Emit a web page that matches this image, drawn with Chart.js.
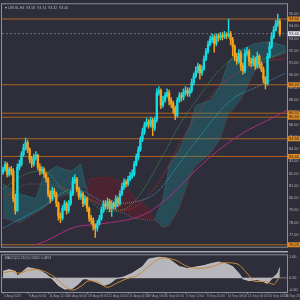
<!DOCTYPE html>
<html>
<head>
<meta charset="utf-8">
<script src="https://cdn.jsdelivr.net/npm/chart.js@4.4.1/dist/chart.umd.min.js"></script>
<style>
  html, body { margin: 0; padding: 0; background: #2d2e3a; }
  #wrap { position: relative; width: 300px; height: 300px; overflow: hidden; background: #2d2e3a; }
  canvas { position: absolute; left: 0; }
</style>
</head>
<body>
<div id="wrap">
  <canvas id="priceChart" width="300" height="251" style="top:0"></canvas>
  <canvas id="macdChart" width="300" height="49" style="top:251px"></canvas>
</div>
<script>
// H4 candles (open of each bar = previous close)
const firstOpen = 82.10;
const closes = [82.36, 82.76, 81.96, 82.36, 82.20, 79.96, 79.00, 82.52, 82.76, 83.56,
  84.12, 84.52, 83.96, 83.16, 82.76, 83.32, 83.48, 82.52, 82.20, 82.36,
  81.96, 81.56, 80.36, 79.96, 80.60, 80.36, 79.56, 78.52, 78.36, 79.16,
  79.56, 79.00, 79.56, 80.36, 81.40, 81.56, 80.76, 80.12, 80.36, 79.56,
  79.96, 79.16, 78.36, 78.20, 77.72, 77.56, 77.96, 78.36, 79.00, 79.56,
  79.32, 79.72, 79.16, 79.56, 79.32, 79.96, 79.56, 80.36, 80.92, 81.32,
  81.16, 81.56, 81.80, 81.96, 82.76, 83.32, 83.96, 84.76, 85.40, 85.96,
  86.20, 85.96, 86.36, 85.72, 86.36, 88.60, 88.76, 87.56, 87.96, 88.36,
  88.60, 87.96, 87.72, 87.32, 86.76, 87.96, 88.36, 88.20, 88.60, 88.76,
  88.52, 88.76, 89.40, 89.96, 90.36, 90.76, 90.20, 90.52, 91.32, 91.96,
  92.52, 92.92, 93.08, 92.60, 93.16, 93.08, 93.24, 93.16, 93.32, 93.24,
  93.40, 92.92, 92.36, 91.56, 91.16, 91.80, 90.76, 90.36, 91.80, 91.96,
  91.16, 91.00, 91.32, 90.76, 91.56, 90.92, 90.52, 89.72, 89.32, 91.56,
  92.36, 93.16, 93.72, 94.20, 94.44, 93.40];
const highs = [82.56, 82.98, 82.90, 82.52, 82.60, 82.40, 80.30, 82.80, 83.10, 83.80,
  84.40, 84.90, 84.70, 84.10, 83.40, 83.60, 83.80, 83.60, 82.80, 82.60,
  82.50, 82.10, 81.70, 80.60, 80.90, 80.80, 80.50, 79.70, 78.80, 79.40,
  79.80, 79.70, 79.80, 80.60, 81.70, 81.90, 81.70, 80.90, 80.60, 80.50,
  80.20, 80.10, 79.30, 78.60, 78.40, 77.90, 78.20, 78.60, 79.30, 79.80,
  79.80, 80.00, 79.90, 79.80, 79.70, 80.20, 80.10, 80.60, 81.20, 81.60,
  81.50, 81.80, 82.10, 82.30, 83.00, 83.60, 84.20, 85.00, 85.70, 86.20,
  86.50, 86.40, 86.60, 86.50, 86.60, 88.90, 89.10, 88.90, 88.30, 88.60,
  88.90, 88.80, 88.20, 87.90, 87.50, 88.20, 88.60, 88.60, 88.90, 89.10,
  89.00, 89.00, 89.70, 90.20, 90.70, 91.00, 90.90, 90.80, 91.60, 92.20,
  92.80, 93.20, 93.40, 93.30, 93.40, 93.40, 93.50, 93.50, 93.60, 93.50,
  94.60, 93.60, 93.10, 92.50, 91.80, 92.10, 92.00, 91.00, 92.10, 92.30,
  92.10, 91.40, 91.60, 91.50, 91.90, 91.70, 91.10, 90.70, 89.90, 91.80,
  92.70, 93.50, 94.00, 94.50, 95.00, 94.60];
const lows = [81.94, 82.20, 81.72, 81.80, 81.90, 79.70, 78.70, 78.90, 82.30, 82.60,
  83.40, 83.90, 83.70, 82.90, 82.50, 82.60, 83.10, 82.30, 81.90, 82.00,
  81.70, 81.30, 80.10, 79.60, 79.80, 80.10, 79.30, 78.20, 78.00, 78.20,
  79.00, 78.70, 78.80, 79.40, 80.20, 81.20, 80.50, 79.90, 79.90, 79.30,
  79.40, 78.90, 78.10, 77.90, 77.40, 76.80, 77.30, 77.80, 78.20, 78.80,
  79.10, 79.10, 78.90, 78.50, 79.10, 79.10, 79.30, 79.40, 80.20, 80.70,
  80.90, 81.00, 81.40, 81.60, 81.80, 82.60, 83.10, 83.80, 84.60, 85.20,
  85.80, 85.70, 85.80, 85.10, 85.50, 86.20, 88.40, 87.30, 87.40, 87.80,
  88.20, 87.60, 87.40, 86.90, 86.40, 86.60, 87.80, 87.90, 88.00, 88.40,
  88.30, 88.30, 88.60, 89.20, 89.80, 90.20, 89.70, 90.00, 90.40, 91.20,
  91.80, 92.40, 92.70, 91.90, 92.40, 92.80, 92.90, 92.90, 93.00, 93.00,
  93.10, 92.50, 91.60, 91.20, 90.90, 91.00, 90.40, 90.10, 90.20, 91.60,
  90.80, 90.70, 90.80, 90.50, 90.60, 90.60, 90.30, 89.40, 88.90, 89.20,
  91.40, 92.20, 93.00, 93.60, 94.00, 93.20];

// cloud (senkou A / B), sampled at bar indexes
const cloudIdx = [0, 8, 16, 20, 26, 33, 38, 40, 41, 42, 50, 59, 64, 71, 74, 78, 81, 86, 91, 94, 101, 106, 110, 116, 123, 130, 138];
const spanA = [81.16, 80.36, 79.96, 81.96, 82.60, 82.20, 82.76, 81.16, 80.60, 79.96, 79.16, 78.76, 78.36, 78.20, 78.20, 79.96, 82.60, 83.96, 85.80, 87.56, 87.96, 89.16, 91.16, 92.12, 92.60, 92.76, 92.36];
const spanB = [78.36, 77.96, 78.76, 79.16, 79.96, 80.36, 80.76, 80.76, 80.60, 81.56, 81.72, 81.32, 79.96, 79.16, 78.20, 77.56, 77.72, 79.16, 81.56, 82.60, 83.56, 84.76, 86.76, 87.96, 90.36, 91.32, 91.80];

// dotted averages and the long solid average
const fastIdx = [0, 11, 20, 30, 40, 50, 60, 67, 77, 86, 96, 106, 116, 125, 138];
const fastVal = [80.76, 81.96, 82.20, 80.60, 80.12, 78.92, 79.16, 80.36, 83.16, 85.96, 88.36, 90.52, 91.56, 91.32, 91.96];
const midIdx = [0, 13, 28, 42, 57, 67, 77, 86, 96, 106, 116, 125, 138];
const midVal = [79.96, 81.16, 80.92, 79.96, 79.00, 79.56, 81.56, 84.36, 87.16, 89.16, 90.36, 91.00, 91.40];
const slowIdx = [0, 18, 35, 52, 72, 91, 111, 125, 138];
const slowVal = [77.56, 79.16, 80.76, 79.56, 80.12, 83.96, 87.96, 89.16, 90.20];
const longIdx = [16, 20, 35, 47, 69, 80, 96, 114, 134, 138.5];
const longVal = [76.20, 76.44, 77.64, 77.88, 78.68, 79.96, 82.60, 85.00, 86.76, 87.16];

const levelPrices = [94.60, 89.24, 86.92, 86.60, 84.84, 83.40, 76.20];
const priceTicks = [95, 94, 93, 92, 91, 90, 89, 88, 87, 86, 85, 84, 83, 82, 81, 80, 79, 78, 77];

// MACD pane
const histIdx = [0, 3, 6, 7, 12, 17, 21, 24, 27, 30, 34, 37, 39, 41, 46, 49, 52, 55, 59, 63, 68, 71, 76, 80, 83, 86, 90, 95, 98, 101, 105, 109, 112, 115, 117, 120, 124, 126, 129, 131, 134, 135];
const histVal = [0.32, 0.41, 0.32, 0.09, 0.51, 0.41, 0.18, -0.05, -0.37, -0.55, -0.51, -0.28, -0.05, -0.05, -0.23, -0.37, -0.28, -0.05, 0.05, 0.23, 0.55, 0.92, 1.01, 0.97, 0.78, 0.55, 0.46, 0.55, 0.60, 0.69, 0.78, 0.69, 0.55, 0.23, -0.05, -0.14, -0.09, -0.14, -0.28, -0.05, 0.23, 0.51];
const signalIdx = [0, 4, 8, 12, 16, 20, 25, 30, 34, 38, 42, 46, 51, 55, 60, 66, 72, 78, 84, 90, 96, 102, 108, 114, 119, 123, 128, 132, 135];
const signalVal = [0.23, 0.32, 0.23, 0.37, 0.41, 0.32, 0.05, -0.41, -0.60, -0.41, -0.14, -0.18, -0.46, -0.28, -0.05, 0.14, 0.64, 0.97, 0.87, 0.55, 0.46, 0.55, 0.74, 0.69, 0.23, -0.18, -0.18, -0.32, 0.09];
const macdTicks = [1.0, 0, -0.6];

const dateTickIdx = [0, 12, 22, 31, 41, 51, 61, 70, 79, 89, 99, 109, 119, 129, 137];
const dateTickLabels = ['4 Aug 2023', '9 Aug 04:00', '11 Aug 12:00', '16 Aug 00:00', '18 Aug 08:00', '22 Aug 20:00', '25 Aug 04:00',
  '29 Aug 16:00', '1 Sep 00:00', '6 Sep 12:00', '8 Sep 20:00', '13 Sep 08:00', '15 Sep 16:00', '20 Sep 04:00', '26 Sep 20:00'];

const BULL = '#14dde4';
const BEAR = '#f2a21c';
const LEVEL = '#b2641d';
const FONT = '"Liberation Sans", sans-serif';

const pts = (idx, vals) => idx.map((k, i) => ({ x: k, y: vals[i] }));
const opens = closes.map((c, i) => i === 0 ? firstOpen : closes[i - 1]);
const candleColors = closes.map((c, i) => c >= opens[i] ? BULL : BEAR);
const lastClose = closes[closes.length - 1];
const xMin = -0.5, xMax = 138.5;

const hLine = (v, color, width, dash) => ({
    type: 'line', data: [{ x: xMin, y: v }, { x: xMax, y: v }],
    borderColor: color, borderWidth: width, borderDash: dash || [],
    pointRadius: 0, fill: false, order: 4
});
const avgLine = (idx, vals, color, dash, width) => ({
    type: 'line', data: pts(idx, vals), borderColor: color, borderWidth: width || 0.9,
    borderDash: dash, pointRadius: 0, fill: false, cubicInterpolationMode: 'monotone', order: 2
});

const priceDecor = {
    id: 'priceDecor',
    afterDraw(chart) {
        const { ctx, chartArea: a, scales: { y } } = chart;
        ctx.save();
        ctx.strokeStyle = '#8e8e98';
        ctx.lineWidth = 1;
        ctx.strokeRect(a.left - 0.5, a.top - 0.5, a.right - a.left + 1, a.bottom - a.top + 1);
        ctx.font = '4px ' + FONT;
        ctx.textBaseline = 'middle';
        levelPrices.forEach(v => {
            const py = y.getPixelForValue(v);
            ctx.fillStyle = '#e08a22';
            ctx.fillRect(a.right + 1, py - 2.5, 12, 5);
            ctx.fillStyle = '#202028';
            ctx.fillText(v.toFixed(2), a.right + 2, py);
        });
        const ly = y.getPixelForValue(lastClose);
        ctx.fillStyle = '#e4e4ea';
        ctx.fillRect(a.right + 1, ly - 2.5, 12, 5);
        ctx.fillStyle = '#202028';
        ctx.fillText(lastClose.toFixed(2), a.right + 2, ly);
        ctx.fillStyle = '#b8b8c0';
        ctx.font = '3.6px ' + FONT;
        ctx.fillText('\u25BE USOIL,H4  93.56  93.74  93.32  93.40', a.left + 3, a.top + 3.5);
        ctx.restore();
    }
};

new Chart(document.getElementById('priceChart'), {
    type: 'bar',
    data: {
        datasets: [
            {
                type: 'bar', grouped: false, order: 0,
                data: closes.map((c, i) => ({ x: i, y: [opens[i], c] })),
                backgroundColor: candleColors, barThickness: 1.7
            },
            {
                type: 'bar', grouped: false, order: 1,
                data: closes.map((c, i) => ({ x: i, y: [lows[i], highs[i]] })),
                backgroundColor: candleColors, barThickness: 0.8
            },
            {
                type: 'line', data: pts(cloudIdx, spanA), order: 3,
                borderColor: 'rgba(70,170,180,0.6)', borderWidth: 0.8, borderDash: [1, 1], pointRadius: 0,
                fill: { target: '+1', above: 'rgba(30,140,150,0.32)', below: 'rgba(120,22,35,0.42)' }
            },
            {
                type: 'line', data: pts(cloudIdx, spanB), order: 3,
                borderColor: 'rgba(150,40,45,0.9)', borderWidth: 0.8, borderDash: [1, 1], pointRadius: 0, fill: false
            },
            avgLine(fastIdx, fastVal, '#3f9a45', [1, 1]),
            avgLine(midIdx, midVal, '#b83636', [1, 1]),
            avgLine(slowIdx, slowVal, '#3aa3cc', [1, 1]),
            avgLine(longIdx, longVal, '#a8307e', [], 1),
            ...levelPrices.map(v => hLine(v, LEVEL, 1)),
            hLine(lastClose, '#7e7e8a', 0.8, [2, 2])
        ]
    },
    options: {
        responsive: false, animation: false, devicePixelRatio: 1, events: [],
        layout: { padding: { left: 2, top: 2, right: 0, bottom: 2 } },
        plugins: { legend: { display: false }, tooltip: { enabled: false } },
        scales: {
            x: { type: 'linear', min: xMin, max: xMax, display: false, offset: false },
            y: {
                position: 'right', min: 76.04, max: 95.80,
                grid: { display: false, drawTicks: false }, border: { display: false },
                afterFit(s) { s.width = 13; },
                afterBuildTicks(s) { s.ticks = priceTicks.map(v => ({ value: v })); },
                ticks: { color: '#b4b4bc', font: { size: 3.8, family: FONT }, padding: 2, callback: v => Number(v).toFixed(2) }
            }
        }
    },
    plugins: [priceDecor]
});

const macdDecor = {
    id: 'macdDecor',
    afterDraw(chart) {
        const { ctx, chartArea: a, scales: { x } } = chart;
        ctx.save();
        ctx.fillStyle = '#a6a6ae';
        ctx.fillRect(0, 0, a.right + 1, 1.5);
        ctx.strokeStyle = '#8e8e98';
        ctx.lineWidth = 1;
        ctx.strokeRect(a.left - 0.5, a.top - 0.5, a.right - a.left + 1, a.bottom - a.top + 1);
        ctx.fillStyle = '#b8b8c0';
        ctx.font = '3.4px ' + FONT;
        ctx.textBaseline = 'middle';
        ctx.fillText('MACD(12,26,9) 0.5061 0.0853', a.left + 3, a.top + 3);
        ctx.textBaseline = 'top';
        ctx.fillStyle = '#a0a0a8';
        ctx.font = '3.3px ' + FONT;
        dateTickIdx.forEach((k, i) => {
            const px = x.getPixelForValue(k);
            ctx.fillRect(px, a.bottom, 0.6, 2);
            ctx.fillText(dateTickLabels[i], px + 1, a.bottom + 2.5);
        });
        ctx.restore();
    }
};

new Chart(document.getElementById('macdChart'), {
    type: 'line',
    data: {
        datasets: [
            {
                data: pts(histIdx, histVal), borderColor: 'rgba(225,222,215,0.9)', borderWidth: 0.7,
                backgroundColor: 'rgba(190,190,195,0.95)', fill: 'origin', pointRadius: 0, order: 2
            },
            {
                data: pts(signalIdx, signalVal), borderColor: '#c98a3b', borderWidth: 1,
                pointRadius: 0, fill: false, cubicInterpolationMode: 'monotone', order: 1
            },
            {
                data: [{ x: xMin, y: 0 }, { x: xMax, y: 0 }], borderColor: '#9a9aa4', borderWidth: 0.7,
                pointRadius: 0, fill: false, order: 3
            }
        ]
    },
    options: {
        responsive: false, animation: false, devicePixelRatio: 1, events: [],
        layout: { padding: { left: 2, top: 2, right: 0, bottom: 8 } },
        plugins: { legend: { display: false }, tooltip: { enabled: false } },
        scales: {
            x: { type: 'linear', min: xMin, max: xMax, display: false },
            y: {
                position: 'right', min: -0.69, max: 1.104,
                grid: { display: false, drawTicks: false }, border: { display: false },
                afterFit(s) { s.width = 13; },
                afterBuildTicks(s) { s.ticks = macdTicks.map(v => ({ value: v })); },
                ticks: { color: '#b4b4bc', font: { size: 3.8, family: FONT }, padding: 2, callback: v => Number(v).toFixed(2) }
            }
        }
    },
    plugins: [macdDecor]
});
</script>
</body>
</html>
